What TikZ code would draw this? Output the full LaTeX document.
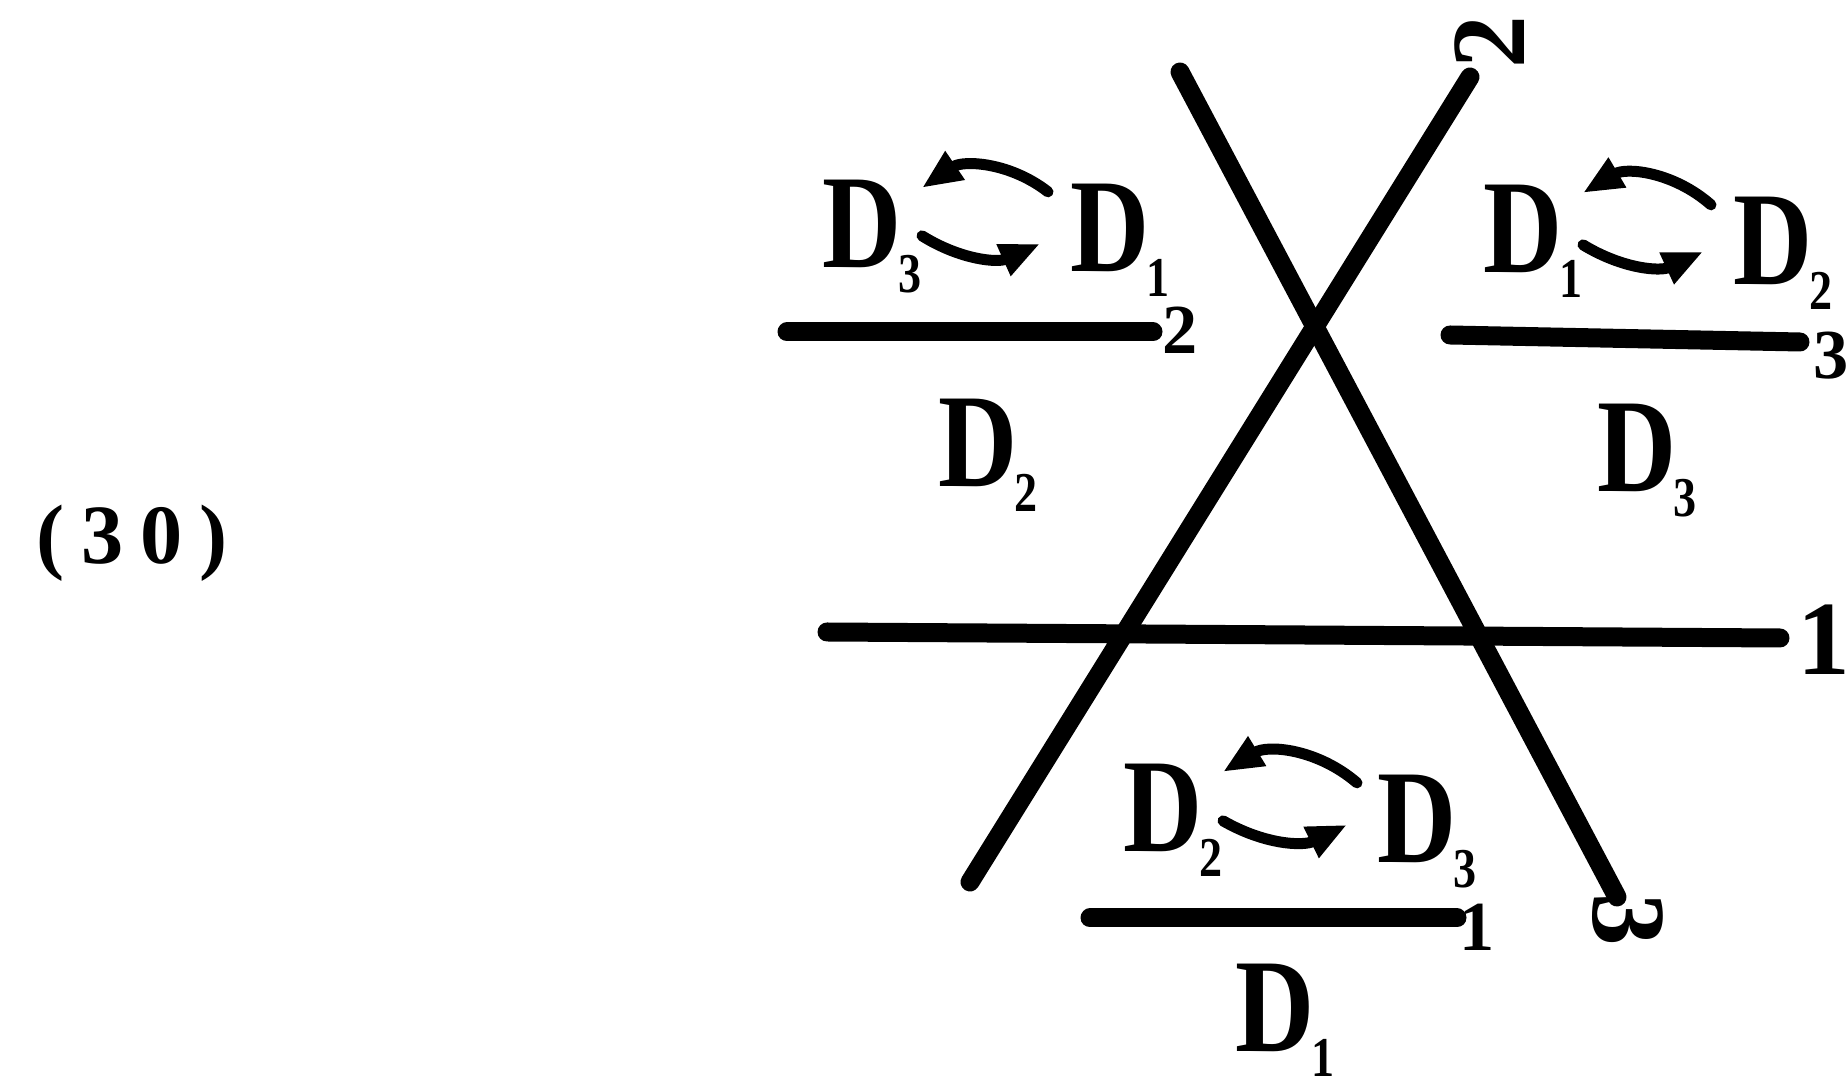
\documentclass[tikz,border=0pt]{standalone}
\usepackage{fontspec}
\setmainfont{Liberation Serif}
\newfontfamily\lblfont{Liberation Serif}[FakeStretch=0.82]
\usepackage{tikz}
\usetikzlibrary{arrows.meta}
\usepackage{tkz-euclide}

\newcommand{\Dsub}[1]{D\kern-1pt\raisebox{-7pt}{\fontsize{16}{16}\selectfont #1}}

\tikzset{
  fatline/.style={line width=0.19cm, line cap=round},
  dname/.style={font=\lblfont\bfseries\fontsize{38}{40}\selectfont, inner sep=0pt, anchor=base west},
  swaparc/.style={line width=0.11cm, line cap=round, -{Triangle[length=0.4cm,width=0.32cm]}},
  barlab/.style={font=\bfseries\fontsize{20}{20}\selectfont, inner sep=0pt},
  linelab/.style={font=\bfseries\fontsize{30}{30}\selectfont, inner sep=0pt}
}

\begin{document}
\begin{tikzpicture}
  \useasboundingbox (0,0) rectangle (18.46,10.85);
  % the three lines
  \tkzDefPoints{8.27/4.53/H1, 17.80/4.47/H2, 9.70/2.03/R1, 14.70/10.08/R2, 11.80/10.13/S1, 16.17/1.88/S2}
  \tkzDrawSegments[fatline](H1,H2 R1,R2 S1,S2)
  \node[linelab] (n1) at (18.24,4.45) {1};
  \node[linelab, rotate=90] (n2) at (14.90,10.43) {2};
  \node[linelab, rotate=-90] (n3) at (16.28,1.65) {3};
  % fraction bars
  \tkzDefPoints{7.87/7.53/aL, 11.53/7.53/aR, 14.50/7.50/bL, 18.00/7.43/bR, 10.90/1.67/cL, 14.57/1.67/cR}
  \tkzDrawSegments[fatline](aL,aR bL,bR cL,cR)
  % upper left region
  \node[dname] (a1) at (8.22,8.17) {\Dsub{3}};
  \node[dname] (a2) at (10.70,8.13) {\Dsub{1}};
  \node[dname] (a3) at (9.38,5.98) {\Dsub{2}};
  \node[barlab] (an) at (11.80,7.55) {2};
  \draw[swaparc] ([xshift=-0.22cm,yshift=-0.08cm]a2.north west) to[bend right=36] ([yshift=-0.08cm]a1.north east);
  \draw[swaparc] ([yshift=-0.56cm]a1.north east) to[bend right=28] ([xshift=-0.3cm,yshift=-0.6cm]a2.north west);
  % upper right region
  \node[dname] (b1) at (14.83,8.12) {\Dsub{1}};
  \node[dname] (b2) at (17.33,8.00) {\Dsub{2}};
  \node[dname] (b3) at (15.97,5.93) {\Dsub{3}};
  \node[barlab] (bn) at (18.31,7.29) {3};
  \draw[swaparc] ([xshift=-0.22cm,yshift=-0.08cm]b2.north west) to[bend right=36] ([yshift=-0.08cm]b1.north east);
  \draw[swaparc] ([yshift=-0.6cm]b1.north east) to[bend right=28] ([xshift=-0.3cm,yshift=-0.55cm]b2.north west);
  % bottom region
  \node[dname] (c1) at (11.23,2.33) {\Dsub{2}};
  \node[dname] (c2) at (13.77,2.22) {\Dsub{3}};
  \node[dname] (c3) at (12.35,0.33) {\Dsub{1}};
  \node[barlab] (cn) at (14.77,1.58) {1};
  \draw[swaparc] ([xshift=-0.2cm,yshift=-0.08cm]c2.north west) to[bend right=36] ([yshift=-0.08cm]c1.north east);
  \draw[swaparc] ([yshift=-0.57cm]c1.north east) to[bend right=28] ([xshift=-0.3cm,yshift=-0.5cm]c2.north west);
  % equation number
  \node (eq) at (1.32,5.42) {\fontsize{24}{24}\selectfont\bfseries\addfontfeature{LetterSpace=20}(30)};
\end{tikzpicture}
\end{document}
